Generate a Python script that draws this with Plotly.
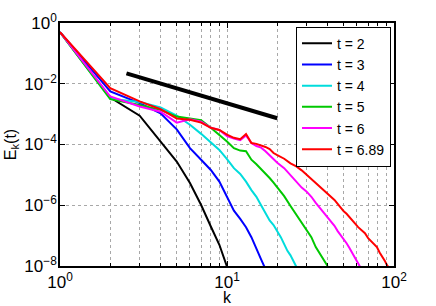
import plotly.graph_objects as go

# ---- data ----
k_t2 = [1, 2, 3, 4, 5, 6, 7, 8, 9, 10]
E_t2 = [0.5, 3.5e-3, 8.9e-4, 1.3e-4, 2.75e-5, 5.4e-6, 1.02e-6, 2.0e-7, 5.0e-8, 9.5e-9]

k_t3 = [1, 2, 3, 4, 5, 6, 7, 8, 9, 10, 11, 12, 13, 14, 15, 16, 17]
E_t3 = [0.5, 5.6e-3, 2.3e-3, 1.07e-3, 3.16e-4, 7.6e-5, 3.16e-5, 1.45e-5, 6.0e-6,
        1.78e-6, 6.6e-7, 3.55e-7, 1.9e-7, 8.9e-8, 4.0e-8, 1.66e-8, 7.9e-9]

k_t4 = [1, 2, 3, 4, 5, 6, 7, 8, 9, 10, 11, 12, 13, 14, 15, 16, 17, 18, 19, 20,
        21, 22, 23, 24, 25, 26]
E_t4 = [0.5, 3.24e-3, 2.51e-3, 1.66e-3, 8.9e-4, 4.47e-4, 2.24e-4, 1.2e-4, 6.6e-5,
        3.3e-5, 1.66e-5, 1.07e-5, 6.0e-6, 3.16e-6, 1.9e-6, 1.0e-6, 5.6e-7, 3.16e-7,
        2.24e-7, 1.41e-7, 8.9e-8, 5.25e-8, 3.16e-8, 2.24e-8, 1.41e-8, 9.5e-9]

k_t5 = [1, 2, 3, 4, 5, 6, 7, 8, 9, 10, 11, 12, 13, 14, 15, 16, 17, 18, 19, 20,
        22, 24, 26, 28, 30, 32, 34, 36, 38, 40]
E_t5 = [0.5, 3.1e-3, 2.0e-3, 1.38e-3, 8.3e-4, 7.2e-4, 6.3e-4, 3.55e-4, 2.1e-4,
        1.26e-4, 7.6e-5, 6.3e-5, 6.0e-5, 3.16e-5, 2.24e-5, 1.58e-5, 1.12e-5, 7.9e-6,
        5.6e-6, 3.98e-6, 2.0e-6, 9.5e-7, 5.0e-7, 2.8e-7, 1.58e-7, 8.9e-8, 4.2e-8,
        2.6e-8, 1.58e-8, 1.0e-8]

k_t6 = [1, 2, 3, 4, 5, 6, 7, 8, 9, 10, 11, 12, 13, 14, 15, 16, 17, 18, 19, 20,
        22, 24, 26, 28, 30, 32, 34, 36, 38, 40, 42, 44, 46, 48, 50, 52, 54, 56,
        58, 60, 62, 63]
E_t6 = [0.5, 3.8e-3, 1.78e-3, 1.2e-3, 5.25e-4, 6.8e-4, 5.6e-4, 3.55e-4, 3.0e-4,
        1.9e-4, 1.58e-4, 1.38e-4, 2.0e-4, 1.12e-4, 8.9e-5, 7.9e-5, 6.0e-5, 4.47e-5,
        3.3e-5, 2.5e-5, 1.66e-5, 1.0e-5, 6.0e-6, 3.8e-6, 2.8e-6, 1.9e-6, 1.2e-6,
        8.3e-7, 5.6e-7, 3.98e-7, 3.0e-7, 2.1e-7, 1.41e-7, 1.05e-7, 7.6e-8, 5.6e-8,
        3.98e-8, 2.8e-8, 2.0e-8, 1.5e-8, 1.05e-8, 8.9e-9]

k_t689 = [1, 2, 3, 4, 5, 6, 7, 8, 9, 10, 11, 12, 13, 14, 15, 16, 17, 18, 19, 20,
          22, 24, 26, 28, 30, 32, 34, 36, 38, 40, 42, 44, 46, 48, 50, 52, 55, 58,
          61, 64, 67, 70, 73, 76, 79, 82, 85, 88, 91, 93]
E_t689 = [0.5, 7.1e-3, 2.63e-3, 1.45e-3, 7.2e-4, 6.5e-4, 5.25e-4, 3.55e-4, 3.0e-4,
          2.1e-4, 1.66e-4, 1.5e-4, 2.2e-4, 1.12e-4, 1.05e-4, 9.5e-5, 8.3e-5, 7.1e-5,
          5.25e-5, 4.47e-5, 3.4e-5, 2.4e-5, 1.9e-5, 1.41e-5, 1.0e-5, 7.6e-6, 5.6e-6,
          3.98e-6, 3.0e-6, 2.5e-6, 1.9e-6, 1.5e-6, 1.12e-6, 8.3e-7, 6.3e-7, 5.25e-7,
          3.55e-7, 2.63e-7, 1.9e-7, 1.5e-7, 1.2e-7, 8.3e-8, 6.6e-8, 5.25e-8, 4.2e-8,
          2.8e-8, 2.1e-8, 1.5e-8, 1.05e-8, 8.9e-9]

# reference slope line (k^-5/3)
k_ref = [2.5, 20]
E_ref = [0.022, 7.3e-4]

series_names = ["t = 2", "t = 3", "t = 4", "t = 5", "t = 6", "t = 6.89"]
series_k = [k_t2, k_t3, k_t4, k_t5, k_t6, k_t689]
series_E = [E_t2, E_t3, E_t4, E_t5, E_t6, E_t689]
colors = ["#000000", "#0000ff", "#00dcdc", "#00c800", "#ff00ff", "#ff0000"]

x_tickvals = [1, 10, 100]
x_ticktext = ["10<sup>0</sup>", "10<sup>1</sup>", "10<sup>2</sup>"]
y_tickvals = [1, 1e-2, 1e-4, 1e-6, 1e-8]
y_ticktext = ["10<sup>0</sup>", "10<sup>−2</sup>", "10<sup>−4</sup>",
              "10<sup>−6</sup>", "10<sup>−8</sup>"]

FONT = "Liberation Sans, Arial, Helvetica, sans-serif"

fig = go.Figure()
fig.add_trace(go.Scatter(x=k_ref, y=E_ref, mode="lines", showlegend=False,
                         line=dict(color="black", width=4)))
for name, kk, ee, c in zip(series_names, series_k, series_E, colors):
    fig.add_trace(go.Scatter(x=kk, y=ee, mode="lines", name=name,
                             line=dict(color=c, width=2)))

grid = dict(showgrid=True, gridcolor="#a8a8a8", griddash="dot", gridwidth=1)
fig.update_xaxes(type="log", range=[0, 2], tickvals=x_tickvals, ticktext=x_ticktext,
                 ticks="inside", ticklen=5, tickcolor="black",
                 tickfont=dict(size=17),
                 showline=True, linecolor="black", linewidth=1.5, mirror="ticks",
                 minor=dict(ticks="inside", ticklen=3, tickcolor="black",
                            showgrid=True, gridcolor="#a8a8a8", griddash="dot",
                            dtick="D1"),
                 title=dict(text="k", standoff=0, font=dict(size=16)),
                 zeroline=False, **grid)
fig.update_yaxes(type="log", range=[-8, 0], tickvals=y_tickvals, ticktext=y_ticktext,
                 ticks="inside", ticklen=5, tickcolor="black",
                 tickfont=dict(size=17), ticklabelstandoff=-2,
                 showline=True, linecolor="black", linewidth=1.5, mirror="ticks",
                 title=dict(text="E<sub>k</sub>(t)", standoff=4, font=dict(size=16)),
                 zeroline=False, **grid)

fig.update_layout(
    width=436, height=306,
    margin=dict(l=60, r=42, t=23, b=40, autoexpand=False),
    paper_bgcolor="white", plot_bgcolor="white",
    font=dict(family=FONT, size=16, color="black"),
    showlegend=True,
    legend=dict(x=0.991, y=0.985, xanchor="right", yanchor="top",
                bgcolor="white", bordercolor="black", borderwidth=1,
                font=dict(size=14), itemwidth=30, tracegroupgap=0),
)

fig.write_html("out.html", config={"displayModeBar": False},
               post_script="document.body.style.margin='0';document.body.style.padding='0';")
